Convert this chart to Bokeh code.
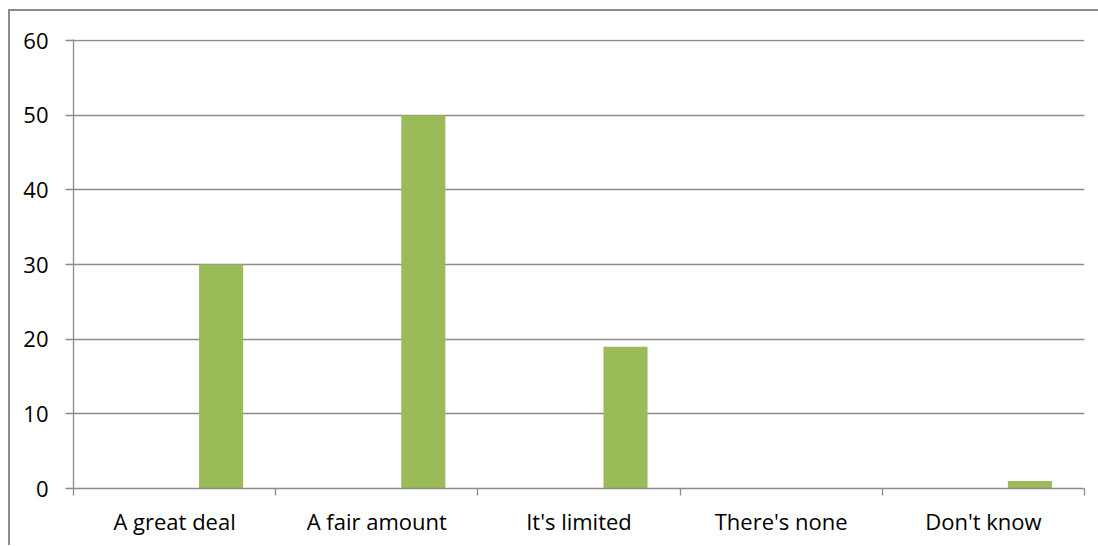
from bokeh.plotting import figure
from bokeh.models import Range1d, FixedTicker, ColumnDataSource
from bokeh.embed import file_html
from bokeh.resources import INLINE

categories = ["A great deal", "A fair amount", "It's limited", "There's none", "Don't know"]
values = [30, 50, 19, 0, 1]
y_ticks = [0, 10, 20, 30, 40, 50, 60]

xs = [i + 0.73 for i in range(len(categories))]
src = ColumnDataSource(dict(x=xs, top=values))

p = figure(width=1090, height=536, output_backend="svg", toolbar_location=None,
           x_range=Range1d(0, len(categories)), y_range=Range1d(0, 60.15),
           min_border_left=63, min_border_right=16, min_border_top=28, min_border_bottom=59)
p.styles = {"margin-left": "8px", "margin-top": "9px",
            "border-left": "2px solid #8c8c8c", "border-top": "2px solid #8c8c8c"}
p.outline_line_color = None
p.background_fill_color = "white"
p.border_fill_color = "white"

p.vbar(x="x", top="top", width=0.218, bottom=0, source=src, fill_color="#9BBB59", line_color=None)

grid_col = "#8c8c8c"
font = "Open Sans"
p.xgrid.grid_line_color = None
p.ygrid.grid_line_color = grid_col
p.ygrid.grid_line_width = 1.3
p.yaxis.ticker = FixedTicker(ticks=y_ticks)
p.yaxis.axis_line_color = grid_col
p.yaxis.axis_line_width = 1.3
p.yaxis.major_tick_line_color = grid_col
p.yaxis.major_tick_line_width = 1.3
p.yaxis.major_tick_out = 8
p.yaxis.major_tick_in = 0
p.yaxis.minor_tick_line_color = None
p.yaxis.major_label_standoff = 17
p.yaxis.major_label_text_font = font
p.yaxis.major_label_text_font_size = "22px"
p.yaxis.major_label_text_color = "black"

centers = [i + 0.5 for i in range(len(categories))]
p.xaxis.ticker = FixedTicker(ticks=centers, minor_ticks=list(range(len(categories) + 1)))
p.xaxis.major_label_overrides = {c: lab for c, lab in zip(centers, categories)}
p.xaxis.axis_line_color = grid_col
p.xaxis.axis_line_width = 1.3
p.xaxis.major_tick_line_color = None
p.xaxis.major_tick_out = 0
p.xaxis.major_tick_in = 0
p.xaxis.minor_tick_line_color = grid_col
p.xaxis.minor_tick_line_width = 1.3
p.xaxis.minor_tick_out = 7
p.xaxis.minor_tick_in = 0
p.xaxis.major_label_standoff = 10
p.xaxis.major_label_text_font = font
p.xaxis.major_label_text_font_size = "22px"
p.xaxis.major_label_text_color = "black"

open("out.html", "w").write(file_html(p, INLINE))
